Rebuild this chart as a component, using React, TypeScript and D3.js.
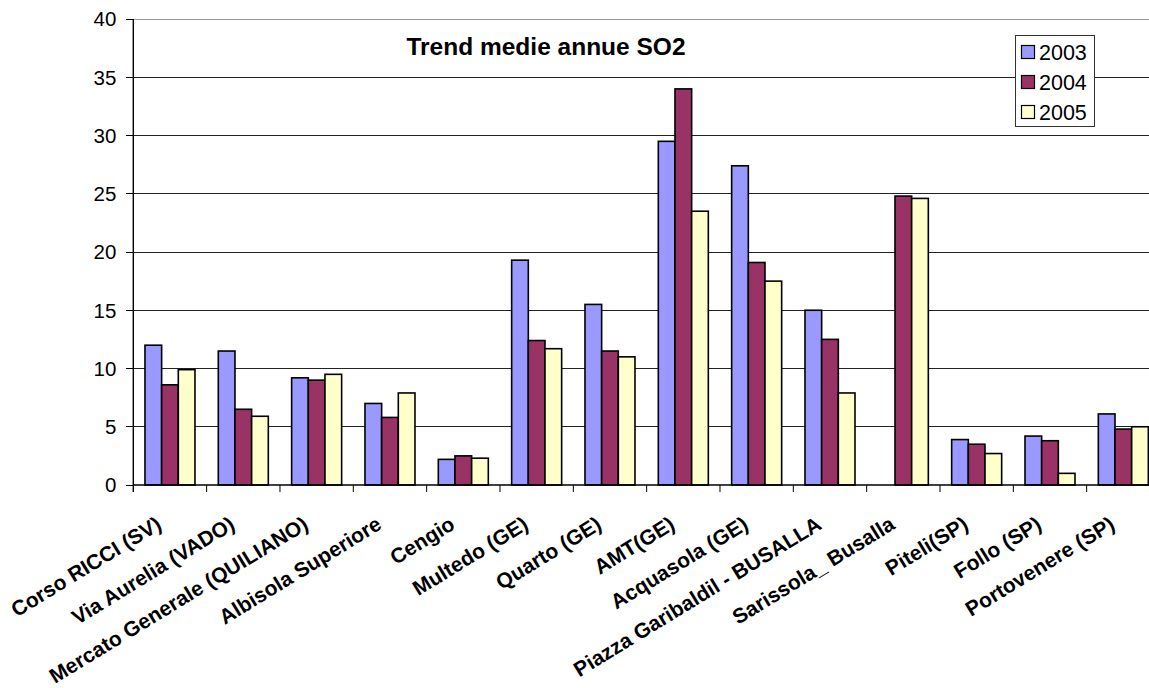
import React from "react";
import * as d3 from "d3";

// Stations monitored
const categories: string[] = [
  "Corso RICCI (SV)",
  "Via Aurelia (VADO)",
  "Mercato Generale (QUILIANO)",
  "Albisola Superiore",
  "Cengio",
  "Multedo (GE)",
  "Quarto (GE)",
  "AMT(GE)",
  "Acquasola (GE)",
  "Piazza Garibaldil - BUSALLA",
  "Sarissola_ Busalla",
  "Piteli(SP)",
  "Follo (SP)",
  "Portovenere (SP)",
];

const years: string[] = ["2003", "2004", "2005"];

// Annual mean SO2 per station (null = no measurement)
const values2003: (number | null)[] = [12.0, 11.5, 9.2, 7.0, 2.2, 19.3, 15.5, 29.5, 27.4, 15.0, null, 3.9, 4.2, 6.1];
const values2004: (number | null)[] = [8.6, 6.5, 9.0, 5.8, 2.5, 12.4, 11.5, 34.0, 19.1, 12.5, 24.8, 3.5, 3.8, 4.8];
const values2005: (number | null)[] = [9.9, 5.9, 9.5, 7.9, 2.3, 11.7, 11.0, 23.5, 17.5, 7.9, 24.6, 2.7, 1.0, 5.0];

const yTicks: number[] = [0, 5, 10, 15, 20, 25, 30, 35, 40];

const seriesValues = [values2003, values2004, values2005];
const colors = ["#9999FF", "#993366", "#FFFFCC"];

const W = 1149;
const H = 688;
const left = 133.3;
const right = 1160;
const top = 19;
const bottom = 485;

export default function App() {
  const x = d3.scaleBand<string>().domain(categories).range([left, right]).padding(0);
  const xs = d3
    .scaleBand<string>()
    .domain(years)
    .range([0, x.bandwidth()])
    .paddingInner(0)
    .paddingOuter(0.7);
  const y = d3.scaleLinear().domain([0, 40]).range([bottom, top]);

  const font = "Arial, 'Liberation Sans', Helvetica, sans-serif";

  return (
    <svg
      width={W}
      height={H}
      style={{ position: "absolute", left: 0, top: 0, background: "#fff" }}
      fontFamily={font}
    >
      {/* gridlines */}
      {yTicks
        .filter((t) => t > 0)
        .map((t) => (
          <line
            key={`g${t}`}
            x1={left}
            x2={right}
            y1={y(t)}
            y2={y(t)}
            stroke={t === 40 ? "#999" : "#222"}
            strokeWidth={1}
            shapeRendering="crispEdges"
          />
        ))}

      {/* bars */}
      {categories.map((c, i) => (
        <g key={c} transform={`translate(${x(c)},0)`}>
          {years.map((yr, s) => {
            const v = seriesValues[s][i];
            if (v == null) return null;
            return (
              <rect
                key={yr}
                x={xs(yr)}
                y={y(v)}
                width={xs.bandwidth()}
                height={y(0) - y(v)}
                fill={colors[s]}
                stroke="#000"
                strokeWidth={1.6}
              />
            );
          })}
        </g>
      ))}

      {/* y axis */}
      <line x1={left} x2={left} y1={top} y2={bottom + 7} stroke="#000" strokeWidth={1.4} />
      {yTicks.map((t) => (
        <g key={`t${t}`}>
          <line x1={left - 7} x2={left} y1={y(t)} y2={y(t)} stroke="#000" strokeWidth={1} shapeRendering="crispEdges" />
          <text x={left - 17} y={y(t)} dy="0.36em" textAnchor="end" fontSize={20.5} fill="#000">
            {t}
          </text>
        </g>
      ))}

      {/* x axis */}
      <line x1={left} x2={right} y1={bottom} y2={bottom} stroke="#000" strokeWidth={1.4} />
      {categories.map((c) => (
        <line
          key={`xt${c}`}
          x1={(x(c) as number) + x.bandwidth()}
          x2={(x(c) as number) + x.bandwidth()}
          y1={bottom}
          y2={bottom + 7}
          stroke="#000"
          strokeWidth={1}
        />
      ))}
      {categories.map((c) => {
        const cx = (x(c) as number) + x.bandwidth() / 2;
        return (
          <text
            key={`xl${c}`}
            transform={`translate(${cx - 7},${bottom + 43}) rotate(-31.5)`}
            textAnchor="end"
            fontSize={21}
            fontWeight="bold"
            fill="#000"
          >
            {c}
          </text>
        );
      })}

      {/* title */}
      <text x={546} y={55} textAnchor="middle" fontSize={24.5} fontWeight="bold" fill="#000">
        Trend medie annue SO2
      </text>

      {/* legend */}
      <rect x={1015.5} y={35.5} width={79} height={91} fill="#fff" stroke="#333" strokeWidth={1} />
      {years.map((yr, s) => {
        const cy = 52 + s * 30;
        return (
          <g key={`lg${yr}`}>
            <rect x={1021.5} y={cy - 6.5} width={13} height={13} fill={colors[s]} stroke="#000" strokeWidth={1.2} />
            <text x={1039} y={cy} dy="0.36em" fontSize={21.5} fill="#000">
              {yr}
            </text>
          </g>
        );
      })}
    </svg>
  );
}
